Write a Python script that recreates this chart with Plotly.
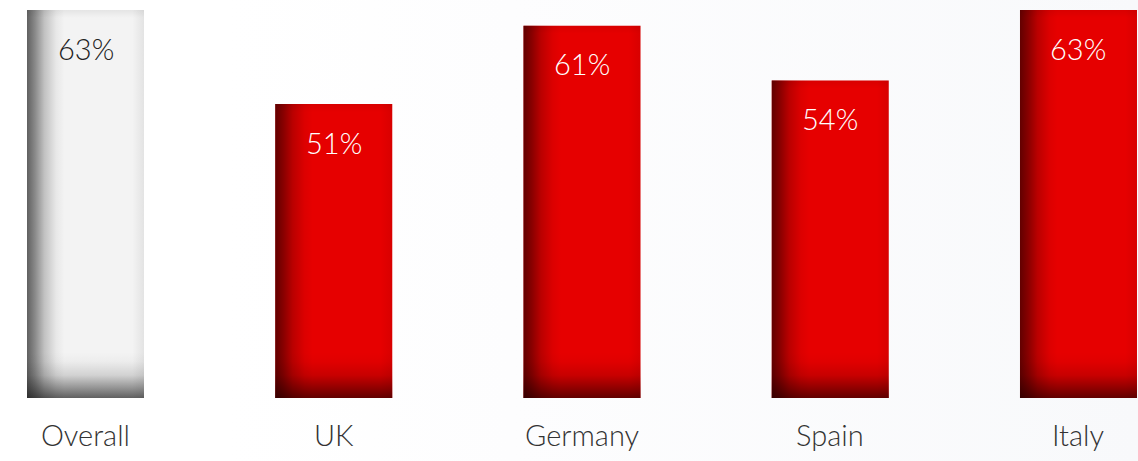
import plotly.graph_objects as go

# ---- data ----
categories = ["Overall", "UK", "Germany", "Spain", "Italy"]
values = [63, 51, 61, 54, 63]
value_labels = ["63%", "51%", "61%", "54%", "63%"]

# ---- styles ----
bar_colors = ["#f3f3f3", "#e60000", "#e60000", "#e60000", "#e60000"]
shade_rgb = ["20,20,20", "30,0,0", "30,0,0", "30,0,0", "30,0,0"]
label_colors = ["#222222", "#ffffff", "#ffffff", "#ffffff", "#ffffff"]

W, H = 1138, 461
BAR_W = 0.4713
X_RANGE = [-0.3444, 4.2397]
Y_RANGE = [13.5, 64.28]
Y_DOMAIN = [63 / 461, 1]
FONT = "Lato, 'Open Sans', sans-serif"

fig = go.Figure()

# background gradient (own subplot, drawn below)
fig.add_trace(go.Scatter(
    x=[0, 1, 1, 0, 0], y=[0, 0, 1, 1, 0], mode="lines", line=dict(width=0),
    fill="toself",
    fillgradient=dict(type="horizontal", start=0, stop=1,
                      colorscale=[[0, "#ffffff"], [0.2, "#ffffff"], [0.45, "#fdfdfe"], [1, "#f8f9fb"]]),
    hoverinfo="skip", showlegend=False, xaxis="x", yaxis="y"))

idx = list(range(len(categories)))

fig.add_trace(go.Bar(
    x=idx, y=values, width=BAR_W, marker=dict(color=bar_colors, line=dict(width=0)),
    hoverinfo="skip", showlegend=False, xaxis="x2", yaxis="y2"))


def h_scale(c):
    return [[0, f"rgba({c},0.66)"], [0.07, f"rgba({c},0.47)"], [0.15, f"rgba({c},0.22)"],
            [0.25, f"rgba({c},0.05)"], [0.32, f"rgba({c},0)"], [0.9, f"rgba({c},0)"],
            [1, f"rgba({c},0.07)"]]


def v_scale(c):
    return [[0, f"rgba({c},0.66)"], [0.2, f"rgba({c},0.45)"], [0.5, f"rgba({c},0.15)"],
            [0.8, f"rgba({c},0.03)"], [1, f"rgba({c},0)"]]


lo = Y_RANGE[0]
for i, v, c in zip(idx, values, shade_rgb):
    l, r = i - BAR_W / 2, i + BAR_W / 2
    xs = [l, r, r, l, l]
    ys = [lo, lo, v, v, lo]
    fig.add_trace(go.Scatter(
        x=xs, y=ys, mode="lines", line=dict(width=0), fill="toself",
        fillgradient=dict(type="horizontal", start=l, stop=r, colorscale=h_scale(c)),
        hoverinfo="skip", showlegend=False, xaxis="x2", yaxis="y2"))
    fig.add_trace(go.Scatter(
        x=xs, y=ys, mode="lines", line=dict(width=0), fill="toself",
        fillgradient=dict(type="vertical", start=lo, stop=lo + 5.8, colorscale=v_scale(c)),
        hoverinfo="skip", showlegend=False, xaxis="x2", yaxis="y2"))
    fig.add_trace(go.Scatter(
        x=xs, y=ys, mode="lines", line=dict(width=0), fill="toself",
        fillgradient=dict(type="vertical", start=v - 1.0, stop=v,
                          colorscale=[[0, "rgba(0,0,0,0)"], [1, "rgba(0,0,0,0.06)"]]),
        hoverinfo="skip", showlegend=False, xaxis="x2", yaxis="y2"))

annotations = []
for i, v, t, c in zip(idx, values, value_labels, label_colors):
    annotations.append(dict(x=i, y=v, xref="x2", yref="y2", text=t, showarrow=False,
                            yanchor="middle", yshift=-38,
                            font=dict(family=FONT, size=29, color=c, weight=300)))
for i, cat in zip(idx, categories):
    annotations.append(dict(x=i, y=(461 - 434) / 461, xref="x2", yref="paper", text=cat,
                            showarrow=False, yanchor="middle",
                            font=dict(family=FONT, size=29, color="#333333", weight=300)))

fig.update_layout(
    width=W, height=H, margin=dict(l=0, r=0, t=0, b=0),
    paper_bgcolor="#ffffff", plot_bgcolor="rgba(0,0,0,0)",
    hovermode=False, showlegend=False, barmode="overlay",
    xaxis=dict(domain=[0, 1], range=[0, 1], visible=False, fixedrange=True),
    yaxis=dict(domain=[0, 1], range=[0, 1], visible=False, fixedrange=True),
    xaxis2=dict(domain=[0, 1], range=X_RANGE, visible=False, anchor="y2"),
    yaxis2=dict(domain=Y_DOMAIN, range=Y_RANGE, visible=False, anchor="x2"),
    annotations=annotations,
)

fig.write_html("out.html")
